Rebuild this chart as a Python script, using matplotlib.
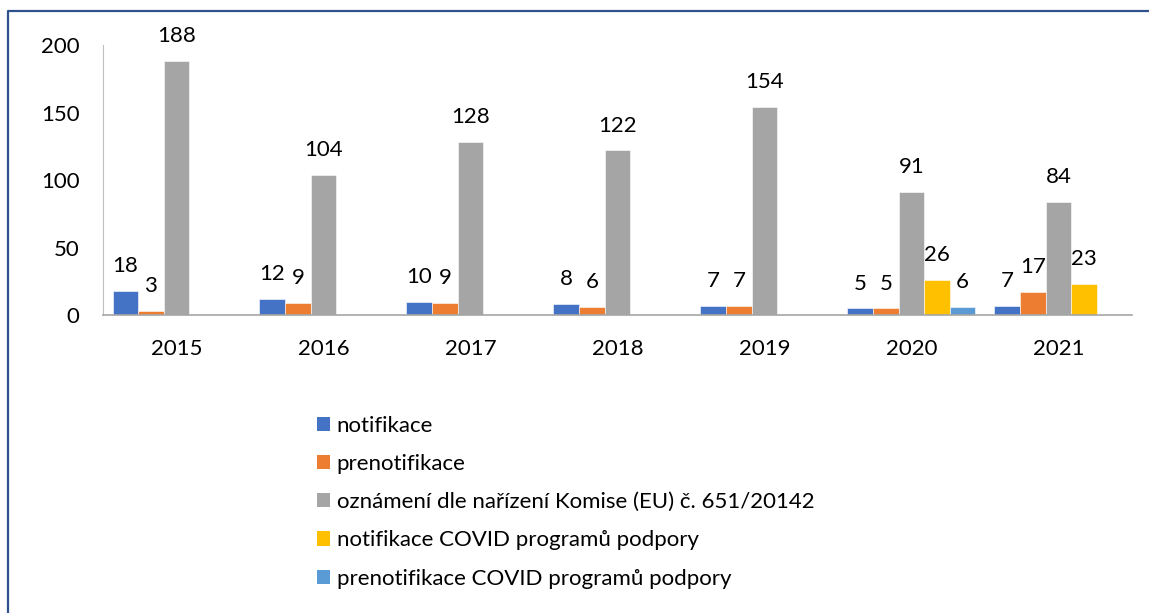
import matplotlib.pyplot as plt
import numpy as np
from matplotlib.lines import Line2D
from matplotlib.patches import Patch

plt.rcParams['font.family'] = ['Lato', 'DejaVu Sans']

years = ['2015', '2016', '2017', '2018', '2019', '2020', '2021']
notifikace = [18, 12, 10, 8, 7, 5, 7]
prenotifikace = [3, 9, 9, 6, 7, 5, 17]
oznameni = [188, 104, 128, 122, 154, 91, 84]
covid_notif = [0, 0, 0, 0, 0, 26, 23]
covid_prenotif = [0, 0, 0, 0, 0, 6, 0]

series = [
    ('notifikace', notifikace, '#4472C4'),
    ('prenotifikace', prenotifikace, '#ED7D31'),
    ('oznámení dle nařízení Komise (EU) č. 651/20142', oznameni, '#A5A5A5'),
    ('notifikace COVID programů podpory', covid_notif, '#FFC000'),
    ('prenotifikace COVID programů podpory', covid_prenotif, '#5B9BD5'),
]

fig = plt.figure(figsize=(11.49, 6.13), dpi=100)
ax = fig.add_axes([0.0896, 0.4861, 0.8955, 0.4405])

x = np.arange(len(years))
w = 0.174
fs = 16

for i, (name, vals, col) in enumerate(series):
    pos = x + (i - 2) * w
    ax.bar(pos, vals, width=w, color=col, edgecolor='white', linewidth=0.4, label=name)
    for p, v in zip(pos, vals):
        if v > 0:
            ax.annotate(str(v), (p, v), xytext=(0, 13.5), textcoords='offset points',
                        ha='center', va='baseline', fontsize=fs, color='black')

ax.set_xlim(-0.5, len(years) - 0.5)
ax.set_ylim(0, 200)
ax.set_yticks([0, 50, 100, 150, 200])
ax.set_xticks(x)
ax.set_xticklabels(years)
ax.tick_params(axis='both', length=0, labelsize=fs, colors='black')
ax.tick_params(axis='y', pad=17)
ax.tick_params(axis='x', pad=17)
for s in ['top', 'right']:
    ax.spines[s].set_visible(False)
ax.spines['left'].set_color('#BFBFBF')
ax.spines['bottom'].set_color('#A6A6A6')
ax.spines['bottom'].set_linewidth(1.2)

handles = [Patch(facecolor=c, label=n) for n, _, c in series]
fig.legend(handles=handles, loc='upper left', bbox_to_anchor=(0.2755, 0.322),
           frameon=False, fontsize=fs, handlelength=0.6, handleheight=0.6,
           handletextpad=0.3, labelspacing=0.82, borderpad=0, borderaxespad=0)

# outer frame of the chart object
fx = 8 / 1149
fy = 1 - 11 / 613
fig.add_artist(Line2D([fx, fx, 1.0], [0.0, fy, fy], color='#2F528F', linewidth=1.6))

fig.savefig('out.png', dpi=100, facecolor='white')
